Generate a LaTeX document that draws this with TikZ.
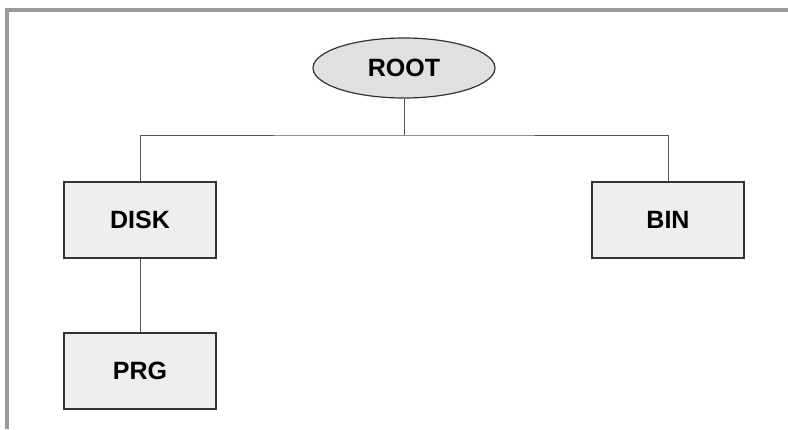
\documentclass[tikz,border=0pt]{standalone}
\usepackage{fontspec}
\setmainfont{Liberation Sans}
\usetikzlibrary{shapes.geometric}
\definecolor{framegray}{HTML}{999999}
\definecolor{boxfill}{HTML}{EEEEEE}
\definecolor{ellfill}{HTML}{E0E0E0}
\definecolor{linegray}{HTML}{555555}
\begin{document}
\begin{tikzpicture}[x=1pt,y=-1pt,
  lbl/.style={font=\bfseries\fontsize{25}{29}\selectfont, text=black},
  boxnode/.style={lbl, draw=black!80, line width=1.2pt, fill=boxfill, minimum width=152pt, minimum height=76pt, inner sep=0pt},
  ellnode/.style={lbl, ellipse, draw=black!80, line width=1.2pt, fill=ellfill, minimum width=182pt, minimum height=60pt, inner sep=0pt},
  conn/.style={draw=linegray, line width=1pt}]
\useasboundingbox (0,0) rectangle (788,429);
\draw[framegray, line width=4.5pt] (7,429) -- (7,10) -- (788,10);
\node[ellnode] (root) at (404,68) {ROOT};
\node[boxnode] (disk) at (140,220) {DISK};
\node[boxnode] (bin) at (668,220) {BIN};
\node[boxnode] (prg) at (140,371) {PRG};
\coordinate (j) at (404,135);
\draw[conn] (root.south) -- (j);
\draw[conn] (disk.north) |- (j) -| (bin.north);
\draw[conn] (disk.south) -- (prg.north);
\end{tikzpicture}
\end{document}
